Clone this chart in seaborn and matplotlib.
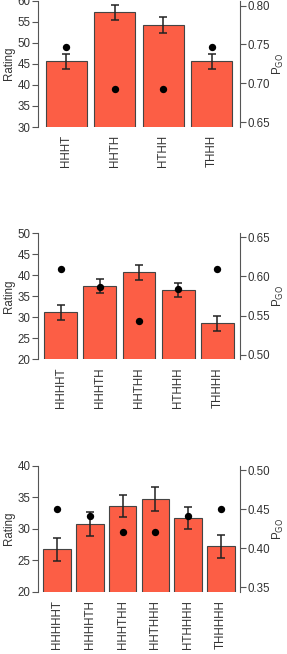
import numpy as np
import pandas as pd
import seaborn as sns
import matplotlib.pyplot as plt

# panel 1
cats1 = ['HHHT', 'HHTH', 'HTHH', 'THHH']
rating1 = [45.6, 57.2, 54.2, 45.6]
err1 = [1.8, 1.8, 1.85, 1.8]
pgo1 = [0.747, 0.692, 0.692, 0.747]

# panel 2
cats2 = ['HHHHT', 'HHHTH', 'HHTHH', 'HTHHH', 'THHHH']
rating2 = [31.1, 37.35, 40.7, 36.5, 28.5]
err2 = [1.85, 1.7, 1.85, 1.7, 1.75]
pgo2 = [0.610, 0.5865, 0.5426, 0.5844, 0.610]

# panel 3
cats3 = ['HHHHHT', 'HHHHTH', 'HHHTHH', 'HHTHHH', 'HTHHHH', 'THHHHH']
rating3 = [26.7, 30.7, 33.6, 34.7, 31.75, 27.2]
err3 = [1.9, 1.9, 1.8, 1.85, 1.75, 1.8]
pgo3 = [0.450, 0.4415, 0.421, 0.421, 0.441, 0.450]

panels = [
    (cats1, rating1, err1, pgo1, (30, 60), [30, 35, 40, 45, 50, 55, 60],
     (0.6436, 0.8065), [0.65, 0.70, 0.75, 0.80], (0.5, 127)),
    (cats2, rating2, err2, pgo2, (20, 50), [20, 25, 30, 35, 40, 45, 50],
     (0.4945, 0.655), [0.50, 0.55, 0.60, 0.65], (233.3, 359)),
    (cats3, rating3, err3, pgo3, (20, 40), [20, 25, 30, 35, 40],
     (0.3444, 0.5055), [0.35, 0.40, 0.45, 0.50], (465.7, 591.7)),
]

sns.set_style('white')
plt.rcParams['font.family'] = ['Liberation Sans', 'DejaVu Sans']
plt.rcParams['font.size'] = 8.3

W, H = 287, 654
fig = plt.figure(figsize=(W / 100, H / 100), dpi=100)
txt = '#333333'
bar_color = '#FC5E45'

for cats, rating, err, pgo, ylim, yticks, ylim2, yticks2, (top, bot) in panels:
    ax = fig.add_axes([38 / W, 1 - bot / H, (240 - 38) / W, (bot - top) / H])
    df = pd.DataFrame({'cat': cats, 'rating': rating, 'pgo': pgo})
    sns.barplot(data=df, x='cat', y='rating', ax=ax, color=bar_color,
                saturation=1, width=0.84, edgecolor='#444444', linewidth=0.8,
                errorbar=None)
    ax.errorbar(np.arange(len(cats)), rating, yerr=err, fmt='none',
                ecolor='#222222', elinewidth=1.1, capsize=3, capthick=1.1, zorder=5)
    n = len(cats)
    ax.set_xlim(-0.58, n - 0.42)
    ax.set_ylim(*ylim)
    ax.set_yticks(yticks)
    ax.set_xlabel('')
    ax.set_ylabel('Rating', color=txt, labelpad=1.5)
    for s in ['top', 'bottom', 'right']:
        ax.spines[s].set_visible(False)
    ax.spines['left'].set_color('#555555')
    ax.spines['left'].set_linewidth(0.8)
    ax.tick_params(axis='y', direction='out', length=4, width=0.8,
                   color='#555555', labelcolor=txt, pad=1.5)
    ax.tick_params(axis='x', length=0, labelcolor=txt, pad=6)
    for lab in ax.get_xticklabels():
        lab.set_rotation(90)

    ax2 = ax.twinx()
    sns.scatterplot(x=np.arange(n), y=pgo, ax=ax2, color='black', s=28,
                    edgecolor='black', linewidth=0, zorder=6)
    ax2.set_ylim(*ylim2)
    ax2.set_yticks(yticks2)
    ax2.set_yticklabels([f'{v:.2f}' for v in yticks2])
    ax2.set_xlim(-0.58, n - 0.42)
    ax2.set_ylabel(r'P$_{\mathrm{GO}}$', color=txt, labelpad=0.5)
    for s in ['top', 'bottom', 'left']:
        ax2.spines[s].set_visible(False)
    ax2.spines['right'].set_color('#555555')
    ax2.spines['right'].set_linewidth(0.8)
    ax2.tick_params(axis='y', direction='out', length=4, width=0.8,
                    color='#555555', labelcolor=txt, pad=1.5)

fig.savefig('out.png', dpi=100)
